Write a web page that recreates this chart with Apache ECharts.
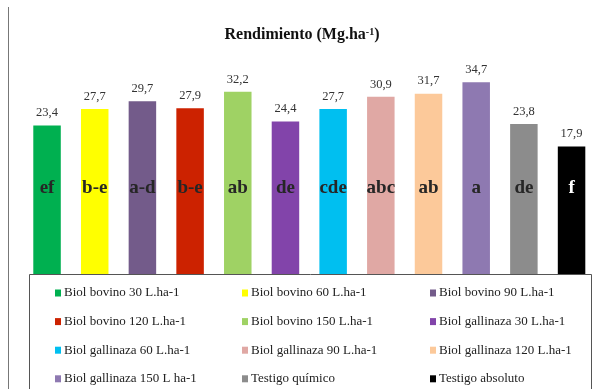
<!DOCTYPE html>
<html>

<head>
    <title>Rendimiento</title>
    <meta charset="utf-8">
    <script src="https://cdn.jsdelivr.net/npm/echarts@6/dist/echarts.min.js"></script>
    <style>
        body { margin: 0; background: #fff; }
    </style>
</head>

<body>
    <div id="main" style="width: 604px;height:389px;"></div>

    <script type="text/javascript">
        // treatments, in the order the bars are drawn
        var names = [
            'Biol bovino 30 L.ha-1', 'Biol bovino 60 L.ha-1', 'Biol bovino 90 L.ha-1',
            'Biol bovino 120 L.ha-1', 'Biol bovino 150 L.ha-1', 'Biol gallinaza 30 L.ha-1',
            'Biol gallinaza 60 L.ha-1', 'Biol gallinaza 90 L.ha-1', 'Biol gallinaza 120 L.ha-1',
            'Biol gallinaza 150 L ha-1', 'Testigo químico', 'Testigo absoluto'
        ];
        // yield in Mg/ha
        var values = [23.4, 27.7, 29.7, 27.9, 32.2, 24.4, 27.7, 30.9, 31.7, 34.7, 23.8, 17.9];
        // significance letters
        var letters = ['ef', 'b-e', 'a-d', 'b-e', 'ab', 'de', 'cde', 'abc', 'ab', 'a', 'de', 'f'];
        var colors = ['#00b050', '#ffff00', '#735b8a', '#cc2200', '#9fd264', '#8244aa',
            '#00bff0', '#e0a8a4', '#fcc99a', '#8e79b1', '#8c8c8c', '#000000'];

        var serif = '"Liberation Serif", "DejaVu Serif", serif';
        var myChart = echarts.init(document.getElementById('main'));

        // one series per treatment so the legend gets one entry each; they overlap via barGap
        var series = names.map(function (name, i) {
            return {
                name: name,
                type: 'bar',
                barWidth: 27.5,
                barGap: '-100%',
                itemStyle: { color: colors[i] },
                data: values.map(function (v, j) { return j === i ? v : '-'; }),
                label: {
                    show: true,
                    position: 'insideBottom',
                    distance: 76,
                    formatter: letters[i],
                    fontFamily: serif,
                    fontWeight: 'bold',
                    fontSize: 19,
                    color: i === 11 ? '#ffffff' : '#262626'
                },
                markPoint: {
                    symbol: 'rect',
                    symbolSize: 0,
                    data: [{ coord: [name, values[i]], value: values[i] }],
                    label: {
                        show: true,
                        position: 'top',
                        distance: 6,
                        fontFamily: serif,
                        fontSize: 12.5,
                        color: '#333',
                        formatter: function (p) { return p.value.toFixed(1).replace('.', ','); }
                    }
                }
            };
        });

        var legendCol = function (start, x) {
            return {
                data: names.slice(start, start + 12).filter(function (n, k) { return k % 3 === 0; }),
                orient: 'vertical',
                left: x,
                top: 286,
                padding: 0,
                itemWidth: 6,
                itemHeight: 7,
                itemGap: 14.6,
                icon: 'rect',
                selectedMode: false,
                textStyle: { fontFamily: serif, fontSize: 13, color: '#222', lineHeight: 14, padding: [0, 0, 0, -2] }
            };
        };

        var option = {
            animation: false,
            title: {
                text: '{b|Rendimiento (Mg.ha}{s|-1}{b|)}',
                left: 'center',
                top: 22,
                textStyle: {
                    rich: {
                        b: { fontFamily: serif, fontWeight: 'bold', fontSize: 16, color: '#111' },
                        s: { fontFamily: serif, fontWeight: 'bold', fontSize: 10, color: '#111', verticalAlign: 'top', padding: [0, 0, 6, 0] }
                    }
                }
            },
            legend: [legendCol(0, 55), legendCol(1, 242), legendCol(2, 430)],
            grid: { left: 23.2, right: 8.6, top: 62, bottom: 115 },
            xAxis: {
                type: 'category',
                data: names,
                axisLine: { show: false },
                axisTick: { show: false },
                axisLabel: { show: false }
            },
            yAxis: {
                type: 'value',
                min: -15.5,
                max: 40,
                startValue: -15.5,
                show: false,
                splitLine: { show: false }
            },
            graphic: [
                {
                    type: 'line',
                    shape: { x1: 8.5, y1: 7, x2: 8.5, y2: 389 },
                    style: { stroke: '#777', lineWidth: 1 }
                },
                {
                    type: 'rect',
                    z: 1,
                    shape: { x: 29.5, y: 274.5, width: 562, height: 130 },
                    style: { fill: '#fff', stroke: '#555', lineWidth: 1 }
                }
            ],
            series: series
        };

        myChart.setOption(option);
    </script>
</body>

</html>
